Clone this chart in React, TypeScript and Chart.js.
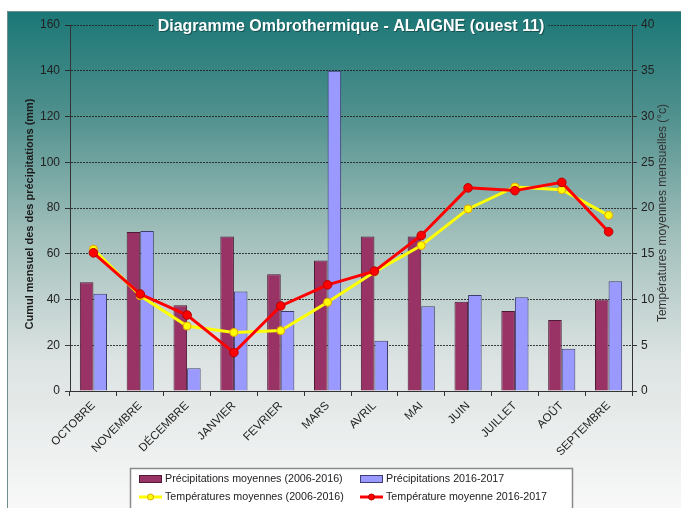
import React, { useEffect, useRef } from "react";
import { Chart, registerables } from "chart.js";

Chart.register(...registerables);

const categories = ["OCTOBRE", "NOVEMBRE", "DÉCEMBRE", "JANVIER", "FEVRIER", "MARS", "AVRIL", "MAI", "JUIN", "JUILLET", "AOÛT", "SEPTEMBRE"];
const precipMoyennes = [47.5, 69.5, 37.5, 67.5, 51, 57, 67.5, 67.5, 39, 35, 31, 40];
const precip2016 = [42.5, 70, 10, 43.5, 35, 140, 22, 37, 42, 41, 18.5, 48];
const tempMoyennes = [15.5, 10.4, 7.1, 6.4, 6.6, 9.7, 13, 15.9, 19.9, 22.3, 22.0, 19.2];
const temp2016 = [15.1, 10.6, 8.3, 4.2, 9.3, 11.6, 13.1, 17.0, 22.2, 21.9, 22.8, 17.4];
const leftTicks = [0, 20, 40, 60, 80, 100, 120, 140, 160];
const rightTicks = [0, 5, 10, 15, 20, 25, 30, 35, 40];

const TITLE = "Diagramme Ombrothermique - ALAIGNE (ouest 11)";
const LEFT_TITLE = "Cumul mensuel des des précipitations (mm)";
const RIGHT_TITLE = "Températures moyennes mensuelles (°c)";
const FONT = "'Liberation Sans', Arial, sans-serif";

let bgGradient: CanvasGradient | null = null;

const decorPlugin = {
  id: "decor",
  beforeDraw(chart: any) {
    const ctx = chart.ctx as CanvasRenderingContext2D;
    ctx.save();
    ctx.fillStyle = "#ffffff";
    ctx.fillRect(0, 0, chart.width, chart.height);
    const g = ctx.createLinearGradient(0, 11, 0, 508);
    g.addColorStop(0, "#1b7776");
    g.addColorStop(0.2, "#4d8f8c");
    g.addColorStop(0.45, "#a1bfbb");
    g.addColorStop(0.7, "#dce3e2");
    g.addColorStop(1, "#f8f8f8");
    bgGradient = g;
    ctx.fillStyle = g;
    ctx.fillRect(7, 11, chart.width - 7, chart.height - 11);
    ctx.strokeStyle = "#6d8f8e";
    ctx.lineWidth = 1;
    ctx.beginPath();
    ctx.moveTo(7.5, chart.height);
    ctx.lineTo(7.5, 11.5);
    ctx.lineTo(chart.width, 11.5);
    ctx.stroke();
    ctx.restore();
  },
  afterDraw(chart: any) {
    const ctx = chart.ctx as CanvasRenderingContext2D;
    ctx.save();
    ctx.font = `bold 16px ${FONT}`;
    const tw = ctx.measureText(TITLE).width;
    const cx = 351;
    if (bgGradient) {
      ctx.fillStyle = bgGradient;
      ctx.fillRect(cx - tw / 2 - 4, 17, tw + 8, 20);
    }
    ctx.textAlign = "center";
    ctx.textBaseline = "middle";
    ctx.fillStyle = "rgba(0,40,40,0.5)";
    ctx.fillText(TITLE, cx + 1, 28);
    ctx.fillStyle = "#ffffff";
    ctx.fillText(TITLE, cx, 27);

    ctx.save();
    ctx.translate(30, 214);
    ctx.rotate(-Math.PI / 2);
    ctx.font = `bold 11px ${FONT}`;
    ctx.fillStyle = "#1a1a1a";
    ctx.fillText(LEFT_TITLE, 0, 0);
    ctx.restore();

    ctx.save();
    ctx.translate(663, 213);
    ctx.rotate(-Math.PI / 2);
    ctx.font = `12px ${FONT}`;
    ctx.fillStyle = "#333333";
    ctx.fillText(RIGHT_TITLE, 0, 0);
    ctx.restore();

    const ds = chart.data.datasets;
    ctx.fillStyle = "#ffffff";
    ctx.fillRect(130, 468, 442, 45);
    ctx.strokeStyle = "#8a8a8a";
    ctx.lineWidth = 1.5;
    ctx.strokeRect(130.5, 468.5, 442, 45);
    ctx.font = `10.7px ${FONT}`;
    ctx.textAlign = "left";
    ctx.textBaseline = "middle";
    const items = [
      { d: ds[0], x: 139, y: 479, kind: "bar" },
      { d: ds[1], x: 360, y: 479, kind: "bar" },
      { d: ds[2], x: 139, y: 497, kind: "line" },
      { d: ds[3], x: 360, y: 497, kind: "line" },
    ];
    for (const it of items) {
      if (it.kind === "bar") {
        ctx.fillStyle = it.d.backgroundColor;
        ctx.fillRect(it.x, it.y - 3.5, 23, 7);
        ctx.strokeStyle = it.d.borderColor;
        ctx.lineWidth = 1;
        ctx.strokeRect(it.x + 0.5, it.y - 3.5, 22, 7);
      } else {
        ctx.strokeStyle = it.d.borderColor;
        ctx.lineWidth = 3;
        ctx.beginPath();
        ctx.moveTo(it.x, it.y);
        ctx.lineTo(it.x + 23, it.y);
        ctx.stroke();
        ctx.beginPath();
        ctx.arc(it.x + 11.5, it.y, 3, 0, Math.PI * 2);
        ctx.fillStyle = it.d.pointBackgroundColor;
        ctx.fill();
        ctx.lineWidth = 1;
        ctx.strokeStyle = it.d.pointBorderColor;
        ctx.stroke();
      }
      ctx.fillStyle = "#222222";
      ctx.fillText(it.d.label, it.x + 26, it.y);
    }
    ctx.restore();
  },
};

export default function App() {
  const ref = useRef<HTMLCanvasElement | null>(null);
  useEffect(() => {
    if (!ref.current) return;
    const gridColor = "rgba(30,30,30,0.85)";
    const chart = new Chart(ref.current, {
      type: "bar",
      data: {
        labels: categories,
        datasets: [
          {
            type: "bar",
            label: "Précipitations moyennes (2006-2016)",
            data: precipMoyennes,
            backgroundColor: "#993366",
            borderColor: "#4d1a33",
            borderWidth: 1,
            yAxisID: "y",
            order: 3,
            categoryPercentage: 0.58,
            barPercentage: 1,
          },
          {
            type: "bar",
            label: "Précipitations 2016-2017",
            data: precip2016,
            backgroundColor: "#9999ff",
            borderColor: "#3d3d70",
            borderWidth: 1,
            yAxisID: "y",
            order: 3,
            categoryPercentage: 0.58,
            barPercentage: 1,
          },
          {
            type: "line",
            label: "Températures moyennes (2006-2016)",
            data: tempMoyennes,
            borderColor: "#ffff00",
            backgroundColor: "#ffff00",
            pointBackgroundColor: "#ffff00",
            pointBorderColor: "#e6a400",
            pointRadius: 4,
            pointBorderWidth: 1,
            borderWidth: 3,
            yAxisID: "y1",
            order: 2,
          },
          {
            type: "line",
            label: "Température moyenne 2016-2017",
            data: temp2016,
            borderColor: "#ff0000",
            backgroundColor: "#ff0000",
            pointBackgroundColor: "#ff0000",
            pointBorderColor: "#b30000",
            pointRadius: 4.3,
            pointBorderWidth: 1,
            borderWidth: 3,
            yAxisID: "y1",
            order: 1,
          },
        ] as any,
      },
      options: {
        responsive: false,
        animation: false,
        devicePixelRatio: 1,
        layout: { padding: { top: 25, left: 0, right: 0, bottom: 0 } },
        plugins: {
          legend: { display: false },
          title: { display: false },
          tooltip: { enabled: false },
        },
        scales: {
          x: {
            offset: true,
            afterFit: (s: any) => {
              s.height = 117;
            },
            grid: {
              offset: true,
              drawOnChartArea: false,
              drawTicks: true,
              tickLength: 5,
              color: "#333333",
            },
            border: { display: true, color: "#333333", width: 1 },
            ticks: {
              autoSkip: false,
              minRotation: 45,
              maxRotation: 45,
              padding: 3,
              color: "#222222",
              font: { family: FONT, size: 11.5 },
            },
          },
          y: {
            position: "left",
            min: 0,
            max: 160,
            afterFit: (s: any) => {
              s.width = 70;
            },
            afterBuildTicks: (s: any) => {
              s.ticks = leftTicks.map((v) => ({ value: v }));
            },
            grid: {
              color: gridColor,
              lineWidth: 1,
              tickLength: 5,
              drawTicks: true,
            },
            border: { display: true, color: "#333333", width: 1, dash: [2, 1] },
            ticks: {
              padding: 5,
              color: "#222222",
              font: { family: FONT, size: 12 },
            },
          },
          y1: {
            position: "right",
            min: 0,
            max: 40,
            afterFit: (s: any) => {
              s.width = 49;
            },
            afterBuildTicks: (s: any) => {
              s.ticks = rightTicks.map((v) => ({ value: v }));
            },
            grid: {
              drawOnChartArea: false,
              drawTicks: true,
              tickLength: 5,
              color: "#333333",
            },
            border: { display: true, color: "#333333", width: 1 },
            ticks: {
              padding: 4,
              color: "#222222",
              font: { family: FONT, size: 12 },
            },
          },
        },
      } as any,
      plugins: [decorPlugin],
    });
    return () => chart.destroy();
  }, []);

  return (
    <div style={{ position: "absolute", left: 0, top: 0, width: 681, height: 508 }}>
      <canvas ref={ref} width={681} height={508} style={{ display: "block", width: 681, height: 508 }} />
    </div>
  );
}
